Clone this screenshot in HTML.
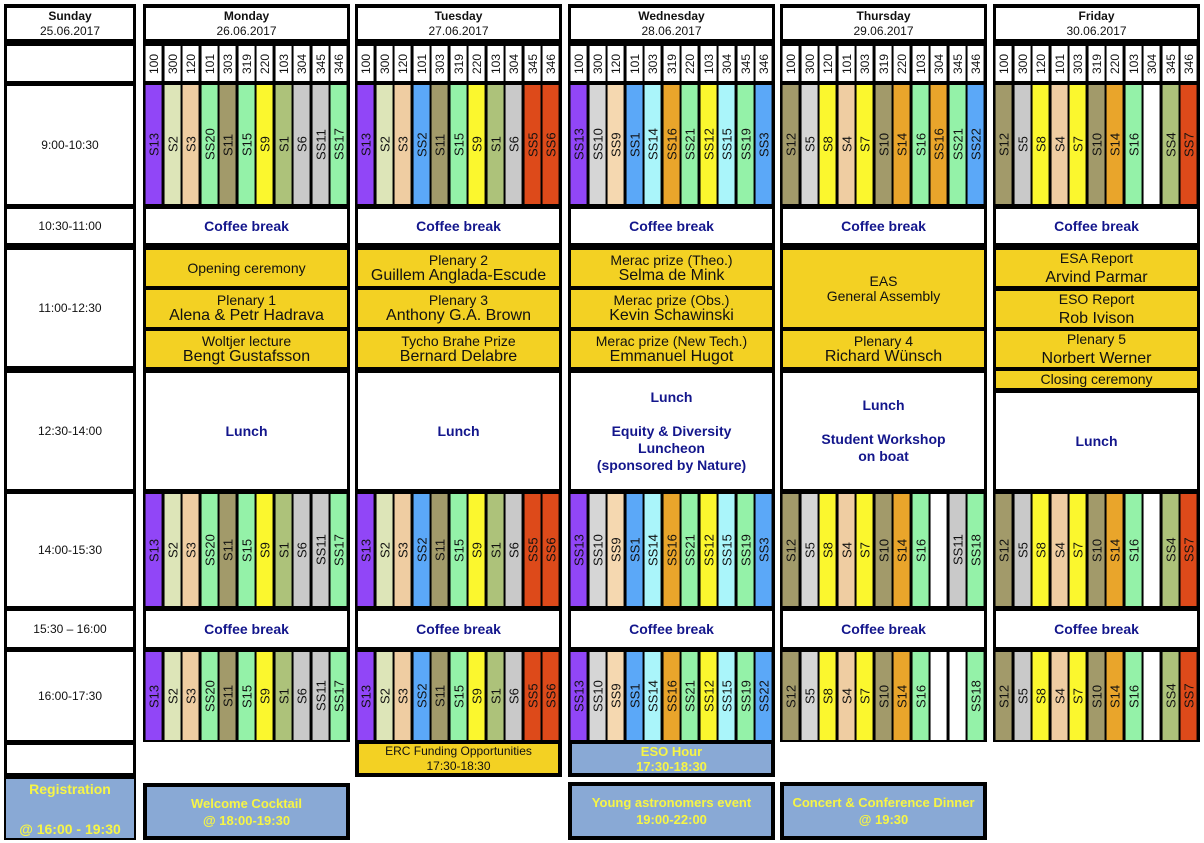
<!DOCTYPE html>
<html><head><meta charset="utf-8"><style>
*{margin:0;padding:0;box-sizing:border-box}
body{width:1204px;height:843px;background:#fff;position:relative;overflow:hidden;font-family:"Liberation Sans",Arial,sans-serif;color:#111}
.col{position:absolute;top:4px;background:#000}
.c{position:absolute;left:3px;right:3px;background:#fff;display:flex;align-items:center;justify-content:center;text-align:center;font-size:12px;line-height:15px}
.hd b{display:block}
.row{position:absolute;left:3px;right:3px;display:flex;gap:3px}
.row i{flex:1;font-style:normal;display:flex;align-items:center;justify-content:center;writing-mode:vertical-rl;transform:rotate(180deg);font-size:13px;background:#fff}
.rm i{font-size:12px}
.cb{color:#13168c;font-weight:bold;font-size:14px}
.y{background:#f3d123!important;font-size:14px;line-height:15px}
.n{font-size:16px;line-height:16px}
.pu{background:#9146f7!important}.be{background:#dde5b8!important}.pe{background:#efcda2!important}
.mi{background:#94f2a8!important}.ol{background:#a29a6a!important}.ye{background:#fbf72e!important}
.go{background:#adc27a!important}.gr{background:#c9c9c9!important}.bl{background:#5ba8f8!important}
.re{background:#dd4a1a!important}.cy{background:#aaf5fa!important}.or{background:#e9a52b!important}
.lg{background:#d6d6d6!important}.lp{background:#f5d8b0!important}
.bx{position:absolute;background:#89a9d5;border:4px solid #000;color:#f7f545;font-weight:bold;font-size:13px;line-height:17px;display:flex;align-items:center;justify-content:center;text-align:center}
</style></head><body>

<!-- Sunday -->
<div class="col" style="left:4px;width:132px;height:773px">
<div class="c hd" style="top:4px;height:31px"><div><b>Sunday</b>25.06.2017</div></div>
<div class="c" style="top:42px;height:35px"></div>
<div class="c" style="top:82px;height:118px">9:00-10:30</div>
<div class="c" style="top:205px;height:34px">10:30-11:00</div>
<div class="c" style="top:246px;height:116px">11:00-12:30</div>
<div class="c" style="top:369px;height:116px">12:30-14:00</div>
<div class="c" style="top:490px;height:112px">14:00-15:30</div>
<div class="c" style="top:607px;height:36px">15:30 – 16:00</div>
<div class="c" style="top:648px;height:88px">16:00-17:30</div>
<div class="c" style="top:741px;height:28px"></div>
</div>
<div class="bx" style="left:4px;top:777px;width:132px;height:63px;border-width:2px;font-size:14px;line-height:20px"><div>Registration<br><br>@ 16:00 - 19:30</div></div>

<!-- Monday -->
<div class="col" style="left:143px;width:207px;height:738px">
<div class="c hd" style="top:4px;height:31px"><div><b>Monday</b>26.06.2017</div></div>
<div class="row rm" style="top:42px;height:35px"><i>100</i><i>300</i><i>120</i><i>101</i><i>303</i><i>319</i><i>220</i><i>103</i><i>304</i><i>345</i><i>346</i></div>
<div class="row" style="top:81px;height:119px"><i class="pu">S13</i><i class="be">S2</i><i class="pe">S3</i><i class="mi">SS20</i><i class="ol">S11</i><i class="mi">S15</i><i class="ye">S9</i><i class="go">S1</i><i class="gr">S6</i><i class="gr">SS11</i><i class="mi">SS17</i></div>
<div class="c cb" style="top:205px;height:34px">Coffee break</div>
<div class="c y" style="top:246px;height:36px">Opening ceremony</div>
<div class="c y" style="top:286px;height:37px"><div>Plenary 1<br><span class="n">Alena &amp; Petr Hadrava</span></div></div>
<div class="c y" style="top:327px;height:36px"><div>Woltjer lecture<br><span class="n">Bengt Gustafsson</span></div></div>
<div class="c cb" style="top:369px;height:116px">Lunch</div>
<div class="row" style="top:490px;height:112px"><i class="pu">S13</i><i class="be">S2</i><i class="pe">S3</i><i class="mi">SS20</i><i class="ol">S11</i><i class="mi">S15</i><i class="ye">S9</i><i class="go">S1</i><i class="gr">S6</i><i class="gr">SS11</i><i class="mi">SS17</i></div>
<div class="c cb" style="top:607px;height:36px">Coffee break</div>
<div class="row" style="top:648px;height:88px"><i class="pu">S13</i><i class="be">S2</i><i class="pe">S3</i><i class="mi">SS20</i><i class="ol">S11</i><i class="mi">S15</i><i class="ye">S9</i><i class="go">S1</i><i class="gr">S6</i><i class="gr">SS11</i><i class="mi">SS17</i></div>
</div>
<div class="bx" style="left:143px;top:783px;width:207px;height:57px"><div>Welcome Cocktail<br>@ 18:00-19:30</div></div>

<!-- Tuesday -->
<div class="col" style="left:355px;width:207px;height:738px">
<div class="c hd" style="top:4px;height:31px"><div><b>Tuesday</b>27.06.2017</div></div>
<div class="row rm" style="top:42px;height:35px"><i>100</i><i>300</i><i>120</i><i>101</i><i>303</i><i>319</i><i>220</i><i>103</i><i>304</i><i>345</i><i>346</i></div>
<div class="row" style="top:81px;height:119px"><i class="pu">S13</i><i class="be">S2</i><i class="pe">S3</i><i class="bl">SS2</i><i class="ol">S11</i><i class="mi">S15</i><i class="ye">S9</i><i class="go">S1</i><i class="gr">S6</i><i class="re">SS5</i><i class="re">SS6</i></div>
<div class="c cb" style="top:205px;height:34px">Coffee break</div>
<div class="c y" style="top:246px;height:36px"><div>Plenary 2<br><span class="n">Guillem Anglada-Escude</span></div></div>
<div class="c y" style="top:286px;height:37px"><div>Plenary 3<br><span class="n">Anthony G.A. Brown</span></div></div>
<div class="c y" style="top:327px;height:36px"><div>Tycho Brahe Prize<br><span class="n">Bernard Delabre</span></div></div>
<div class="c cb" style="top:369px;height:116px">Lunch</div>
<div class="row" style="top:490px;height:112px"><i class="pu">S13</i><i class="be">S2</i><i class="pe">S3</i><i class="bl">SS2</i><i class="ol">S11</i><i class="mi">S15</i><i class="ye">S9</i><i class="go">S1</i><i class="gr">S6</i><i class="re">SS5</i><i class="re">SS6</i></div>
<div class="c cb" style="top:607px;height:36px">Coffee break</div>
<div class="row" style="top:648px;height:88px"><i class="pu">S13</i><i class="be">S2</i><i class="pe">S3</i><i class="bl">SS2</i><i class="ol">S11</i><i class="mi">S15</i><i class="ye">S9</i><i class="go">S1</i><i class="gr">S6</i><i class="re">SS5</i><i class="re">SS6</i></div>
</div>
<div class="bx" style="left:355px;top:740px;width:207px;height:37px;background:#f3d123;color:#111;font-weight:normal;font-size:12px;line-height:15px"><div>ERC Funding Opportunities<br>17:30-18:30</div></div>

<!-- Wednesday -->
<div class="col" style="left:568px;width:207px;height:738px">
<div class="c hd" style="top:4px;height:31px"><div><b>Wednesday</b>28.06.2017</div></div>
<div class="row rm" style="top:42px;height:35px"><i>100</i><i>300</i><i>120</i><i>101</i><i>303</i><i>319</i><i>220</i><i>103</i><i>304</i><i>345</i><i>346</i></div>
<div class="row" style="top:81px;height:119px"><i class="pu">SS13</i><i class="lg">SS10</i><i class="lp">SS9</i><i class="bl">SS1</i><i class="cy">SS14</i><i class="or">SS16</i><i class="mi">SS21</i><i class="ye">SS12</i><i class="cy">SS15</i><i class="mi">SS19</i><i class="bl">SS3</i></div>
<div class="c cb" style="top:205px;height:34px">Coffee break</div>
<div class="c y" style="top:246px;height:36px"><div>Merac prize (Theo.)<br><span class="n">Selma de Mink</span></div></div>
<div class="c y" style="top:286px;height:37px"><div>Merac prize (Obs.)<br><span class="n">Kevin Schawinski</span></div></div>
<div class="c y" style="top:327px;height:36px"><div>Merac prize (New Tech.)<br><span class="n">Emmanuel Hugot</span></div></div>
<div class="c cb" style="top:369px;height:116px;line-height:17px"><div>Lunch<br><br>Equity &amp; Diversity<br>Luncheon<br>(sponsored by Nature)</div></div>
<div class="row" style="top:490px;height:112px"><i class="pu">SS13</i><i class="lg">SS10</i><i class="lp">SS9</i><i class="bl">SS1</i><i class="cy">SS14</i><i class="or">SS16</i><i class="mi">SS21</i><i class="ye">SS12</i><i class="cy">SS15</i><i class="mi">SS19</i><i class="bl">SS3</i></div>
<div class="c cb" style="top:607px;height:36px">Coffee break</div>
<div class="row" style="top:648px;height:88px"><i class="pu">SS13</i><i class="lg">SS10</i><i class="lp">SS9</i><i class="bl">SS1</i><i class="cy">SS14</i><i class="or">SS16</i><i class="mi">SS21</i><i class="ye">SS12</i><i class="cy">SS15</i><i class="mi">SS19</i><i class="bl">SS22</i></div>
</div>
<div class="bx" style="left:568px;top:740px;width:207px;height:37px;line-height:15px"><div>ESO Hour<br>17:30-18:30</div></div>
<div class="bx" style="left:568px;top:782px;width:207px;height:58px"><div>Young astronomers event<br>19:00-22:00</div></div>

<!-- Thursday -->
<div class="col" style="left:780px;width:207px;height:738px">
<div class="c hd" style="top:4px;height:31px"><div><b>Thursday</b>29.06.2017</div></div>
<div class="row rm" style="top:42px;height:35px"><i>100</i><i>300</i><i>120</i><i>101</i><i>303</i><i>319</i><i>220</i><i>103</i><i>304</i><i>345</i><i>346</i></div>
<div class="row" style="top:81px;height:119px"><i class="ol">S12</i><i class="lg">S5</i><i class="ye">S8</i><i class="pe">S4</i><i class="ye">S7</i><i class="ol">S10</i><i class="or">S14</i><i class="mi">S16</i><i class="or">SS16</i><i class="mi">SS21</i><i class="bl">SS22</i></div>
<div class="c cb" style="top:205px;height:34px">Coffee break</div>
<div class="c y" style="top:246px;height:77px">EAS<br>General Assembly</div>
<div class="c y" style="top:327px;height:36px"><div>Plenary 4<br><span class="n">Richard Wünsch</span></div></div>
<div class="c cb" style="top:369px;height:116px;line-height:17px"><div>Lunch<br><br>Student Workshop<br>on boat</div></div>
<div class="row" style="top:490px;height:112px"><i class="ol">S12</i><i class="lg">S5</i><i class="ye">S8</i><i class="pe">S4</i><i class="ye">S7</i><i class="ol">S10</i><i class="or">S14</i><i class="mi">S16</i><i></i><i class="gr">SS11</i><i class="mi">SS18</i></div>
<div class="c cb" style="top:607px;height:36px">Coffee break</div>
<div class="row" style="top:648px;height:88px"><i class="ol">S12</i><i class="lg">S5</i><i class="ye">S8</i><i class="pe">S4</i><i class="ye">S7</i><i class="ol">S10</i><i class="or">S14</i><i class="mi">S16</i><i></i><i></i><i class="mi">SS18</i></div>
</div>
<div class="bx" style="left:780px;top:782px;width:207px;height:58px"><div>Concert &amp; Conference Dinner<br>@ 19:30</div></div>

<!-- Friday -->
<div class="col" style="left:993px;width:207px;height:738px">
<div class="c hd" style="top:4px;height:31px"><div><b>Friday</b>30.06.2017</div></div>
<div class="row rm" style="top:42px;height:35px"><i>100</i><i>300</i><i>120</i><i>101</i><i>303</i><i>319</i><i>220</i><i>103</i><i>304</i><i>345</i><i>346</i></div>
<div class="row" style="top:81px;height:119px"><i class="ol">S12</i><i class="gr">S5</i><i class="ye">S8</i><i class="pe">S4</i><i class="ye">S7</i><i class="ol">S10</i><i class="or">S14</i><i class="mi">S16</i><i></i><i class="go">SS4</i><i class="re">SS7</i></div>
<div class="c cb" style="top:205px;height:34px">Coffee break</div>
<div class="c y" style="top:246px;height:36px;line-height:19px"><div>ESA Report<br><span class="n">Arvind Parmar</span></div></div>
<div class="c y" style="top:287px;height:36px;line-height:19px"><div>ESO Report<br><span class="n">Rob Ivison</span></div></div>
<div class="c y" style="top:327px;height:36px;line-height:19px"><div>Plenary 5<br><span class="n">Norbert Werner</span></div></div>
<div class="c y" style="top:367px;height:17px">Closing ceremony</div>
<div class="c cb" style="top:389px;height:96px">Lunch</div>
<div class="row" style="top:490px;height:112px"><i class="ol">S12</i><i class="gr">S5</i><i class="ye">S8</i><i class="pe">S4</i><i class="ye">S7</i><i class="ol">S10</i><i class="or">S14</i><i class="mi">S16</i><i></i><i class="go">SS4</i><i class="re">SS7</i></div>
<div class="c cb" style="top:607px;height:36px">Coffee break</div>
<div class="row" style="top:648px;height:88px"><i class="ol">S12</i><i class="gr">S5</i><i class="ye">S8</i><i class="pe">S4</i><i class="ye">S7</i><i class="ol">S10</i><i class="or">S14</i><i class="mi">S16</i><i></i><i class="go">SS4</i><i class="re">SS7</i></div>
</div>
</body></html>
